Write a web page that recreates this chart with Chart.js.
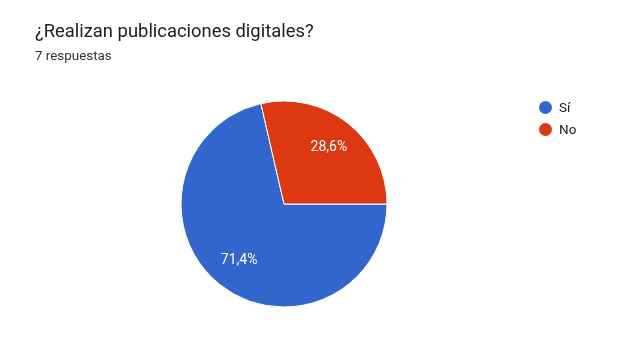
<!DOCTYPE html>
<html>
<head>
<meta charset="utf-8">
<script src="https://cdn.jsdelivr.net/npm/chart.js@4.4.0/dist/chart.umd.min.js"></script>
<style>
  body { margin: 0; background: #fff; font-family: Roboto, Arial, sans-serif; }
  #wrap { position: relative; width: 625px; height: 354px; overflow: hidden; }
  #title { position: absolute; left: 35px; top: 20px; font-size: 18.4px; color: #202124; }
  #sub { position: absolute; left: 35px; top: 48px; font-size: 13.4px; color: #333; }
  #legend { position: absolute; left: 539px; top: 96px; font-size: 13.5px; color: #222; }
  .item { height: 22px; display: flex; align-items: center; }
  .dot { width: 13px; height: 13px; border-radius: 50%; margin-right: 7px; }
  canvas { position: absolute; left: 0; top: 0; }
</style>
</head>
<body>
<div id="wrap">
  <canvas id="myChart" width="625" height="354"></canvas>
  <div id="title">¿Realizan publicaciones digitales?</div>
  <div id="sub">7 respuestas</div>
  <div id="legend"></div>
</div>
<script>
const labels = ["Sí", "No"];
const values = [71.4, 28.6];
const colors = ['#3366cc', '#dc3912'];

// legend in the Google Forms style
const legend = document.getElementById('legend');
labels.forEach((l, i) => {
    legend.innerHTML += `<div class="item"><span class="dot" style="background:${colors[i]}"></span>${l}</div>`;
});

// percent labels inside the slices
const sliceLabels = {
    id: 'sliceLabels',
    afterDatasetsDraw(chart) {
        const c = chart.ctx;
        const meta = chart.getDatasetMeta(0);
        c.save();
        c.fillStyle = '#fff';
        c.font = '14px Roboto, Arial, sans-serif';
        c.textAlign = 'center';
        c.textBaseline = 'middle';
        meta.data.forEach((arc, i) => {
            const mid = (arc.startAngle + arc.endAngle) / 2;
            const r = arc.outerRadius * 0.7;
            const txt = values[i].toFixed(1).replace('.', ',') + '%';
            c.fillText(txt, arc.x + Math.cos(mid) * r, arc.y + Math.sin(mid) * r);
        });
        c.restore();
    }
};

const ctx = document.getElementById('myChart');
new Chart(ctx, {
    type: 'pie',
    data: {
        labels: labels,
        datasets: [{
            data: values,
            backgroundColor: colors,
            borderColor: '#fff',
            borderWidth: 1,
            hoverOffset: 0
        }]
    },
    options: {
        responsive: false,
        animation: false,
        rotation: 90,
        radius: 103,
        layout: { padding: { left: 0, right: 57, top: 54, bottom: 0 } },
        plugins: {
            legend: { display: false },
            tooltip: { enabled: false }
        }
    },
    plugins: [sliceLabels]
});
</script>
</body>
</html>
